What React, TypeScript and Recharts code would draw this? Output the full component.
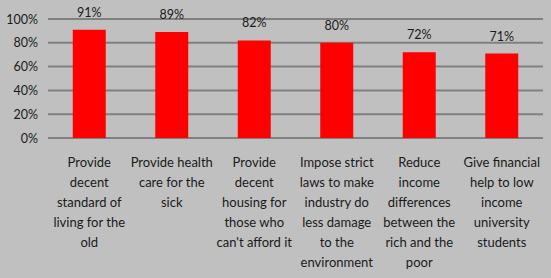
import React from "react";
import { BarChart, Bar, XAxis, YAxis, CartesianGrid, LabelList } from "recharts";

const categories = [
  "Provide\ndecent\nstandard of\nliving for the\nold",
  "Provide health\ncare for the\nsick",
  "Provide\ndecent\nhousing for\nthose who\ncan't afford it",
  "Impose strict\nlaws to make\nindustry do\nless damage\nto the\nenvironment",
  "Reduce\nincome\ndifferences\nbetween the\nrich and the\npoor",
  "Give financial\nhelp to low\nincome\nuniversity\nstudents",
];
const values = [91, 89, 82, 80, 72, 71];
const yTicks = [0, 20, 40, 60, 80, 100];

const data = categories.map((c, i) => ({ name: c, value: values[i] }));

const FONT = "Lato, 'Open Sans', sans-serif";

const XTick = (props: any) => {
  const { x, y, payload } = props;
  const lines = String(payload.value).split("\n");
  return (
    <g>
      {lines.map((l: string, i: number) => (
        <text
          key={i}
          x={x}
          y={y + 21 + i * 20}
          textAnchor="middle"
          fontFamily={FONT}
          fontSize={13}
          fill="#1a1a1a"
        >
          {l}
        </text>
      ))}
    </g>
  );
};

const YTick = (props: any) => {
  const { y, payload } = props;
  return (
    <text
      x={38}
      y={y + 4.5}
      textAnchor="end"
      fontFamily={FONT}
      fontSize={12.5}
      fill="#1a1a1a"
    >
      {payload.value}%
    </text>
  );
};

export default function App() {
  return (
    <div
      style={{
        position: "absolute",
        left: 0,
        top: 0,
        width: 551,
        height: 278,
        background: "#C0C0C0",
      }}
    >
      <BarChart
        width={551}
        height={278}
        data={data}
        margin={{ top: 19, right: 8, left: 0, bottom: 0 }}
        barCategoryGap="30%"
      >
        <CartesianGrid vertical={false} stroke="#808080" strokeWidth={2} />
        <XAxis
          dataKey="name"
          axisLine={false}
          tickLine={false}
          height={140}
          interval={0}
          tick={<XTick />}
        />
        <YAxis
          width={48}
          domain={[0, 100]}
          ticks={yTicks}
          axisLine={false}
          tickLine={false}
          tick={<YTick />}
        />
        <Bar dataKey="value" fill="#FF0000" isAnimationActive={false}>
          <LabelList
            dataKey="value"
            position="top"
            offset={13}
            formatter={(v: any) => `${v}%`}
            style={{ fontFamily: FONT, fontSize: 12.5, fill: "#1a1a1a" }}
          />
        </Bar>
      </BarChart>
    </div>
  );
}
